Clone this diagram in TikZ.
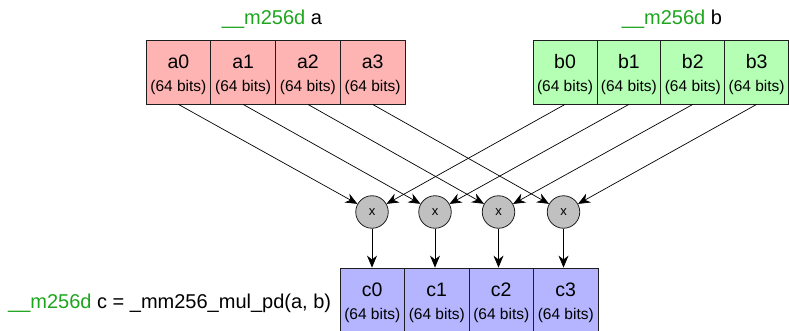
\documentclass[tikz,border=0pt]{standalone}
\usepackage{fontspec}
\setmainfont{Liberation Sans}
\usetikzlibrary{arrows.meta}
\definecolor{apink}{RGB}{255,180,180}
\definecolor{bgreen}{RGB}{180,255,180}
\definecolor{cblue}{RGB}{180,180,255}
\definecolor{tgreen}{RGB}{30,165,30}
\definecolor{mgray}{RGB}{192,192,192}
\definecolor{edge}{RGB}{30,30,30}
\newcommand{\bigf}{\fontsize{19.5}{22.6}\selectfont}
\newcommand{\smallf}{\fontsize{15.5}{16}\selectfont}
\newcommand{\cell}[1]{\rule{0pt}{19.5pt}#1\\{\smallf(64 bits)}}
\begin{document}
\begin{tikzpicture}[x=1pt,y=-1pt,
  cellbox/.style={draw=edge, line width=0.8pt, rectangle, minimum height=64pt, inner sep=0pt, align=center, font=\bigf},
  acell/.style={cellbox, fill=apink, minimum width=64.75pt},
  bcell/.style={cellbox, fill=bgreen, minimum width=63.9pt},
  ccell/.style={cellbox, fill=cblue, minimum width=64.5pt},
  mulnode/.style={draw=edge, line width=0.8pt, circle, fill=mgray, minimum size=32.5pt, inner sep=0pt, font=\fontsize{13}{13}\selectfont},
  conn/.style={draw=black, line width=0.7pt, -{Stealth[length=12pt,width=10pt]}},
  ttl/.style={font=\fontsize{20}{20}\selectfont, inner sep=0pt}
]
\useasboundingbox (0,0) rectangle (789,331);

% titles
\node[ttl, anchor=base] (ta) at (272,25) {\textcolor{tgreen}{\_\_m256d} a};
\node[ttl, anchor=base] (tb) at (672,25) {\textcolor{tgreen}{\_\_m256d} b};
\node[ttl, anchor=base west] (tc) at (8,308) {\textcolor{tgreen}{\_\_m256d} c = \_mm256\_mul\_pd(a, b)};

% a cells
\node[acell] (a0) at (178.4,72) {\cell{a0}};
\node[acell] (a1) at (243.1,72) {\cell{a1}};
\node[acell] (a2) at (307.9,72) {\cell{a2}};
\node[acell] (a3) at (372.6,72) {\cell{a3}};

% b cells
\node[bcell] (b0) at (565,72) {\cell{b0}};
\node[bcell] (b1) at (628.9,72) {\cell{b1}};
\node[bcell] (b2) at (692.8,72) {\cell{b2}};
\node[bcell] (b3) at (756.6,72) {\cell{b3}};

% multipliers
\node[mulnode] (m0) at (372,212) {x};
\node[mulnode] (m1) at (435,212) {x};
\node[mulnode] (m2) at (498.5,212) {x};
\node[mulnode] (m3) at (563.5,212) {x};

% c cells
\node[ccell] (c0) at (372.25,300) {\cell{c0}};
\node[ccell] (c1) at (436.75,300) {\cell{c1}};
\node[ccell] (c2) at (501.25,300) {\cell{c2}};
\node[ccell] (c3) at (565.75,300) {\cell{c3}};

% connectors
\foreach \i in {0,1,2,3}{
  \draw[conn] (a\i.south) -- (m\i);
  \draw[conn] (b\i.south) -- (m\i);
  \draw[conn] (m\i) -- (m\i |- c\i.north);
}
\end{tikzpicture}
\end{document}
